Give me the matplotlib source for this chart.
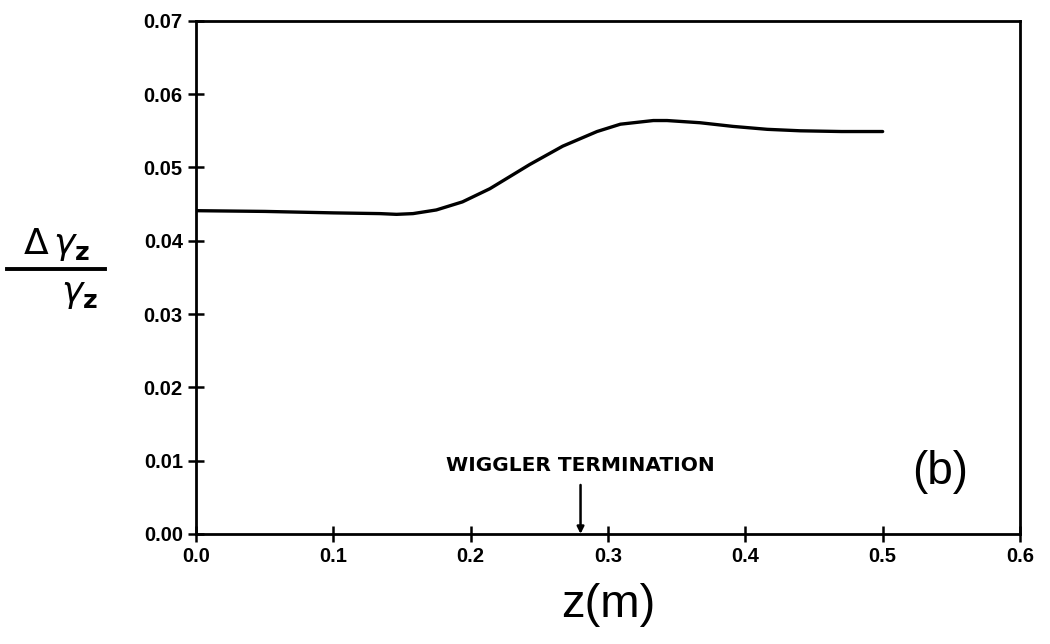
import matplotlib
matplotlib.use("Agg")
import matplotlib.pyplot as plt

# Relative longitudinal energy spread along the interaction region
z_m = [0.0, 0.05, 0.10, 0.134, 0.146, 0.158, 0.175, 0.194, 0.214, 0.243,
       0.267, 0.292, 0.309, 0.333, 0.343, 0.367, 0.391, 0.416, 0.44, 0.47, 0.50]
spread = [0.0441, 0.0440, 0.0438, 0.0437, 0.0436, 0.0437, 0.0442, 0.0453,
          0.0471, 0.0504, 0.0529, 0.0549, 0.0559, 0.0564, 0.0564, 0.0561,
          0.0556, 0.0552, 0.0550, 0.0549, 0.0549]

x_ticks = [0.0, 0.1, 0.2, 0.3, 0.4, 0.5, 0.6]
x_tick_labels = ["0.0", "0.1", "0.2", "0.3", "0.4", "0.5", "0.6"]
y_ticks = [0.00, 0.01, 0.02, 0.03, 0.04, 0.05, 0.06, 0.07]
y_tick_labels = ["0.00", "0.01", "0.02", "0.03", "0.04", "0.05", "0.06", "0.07"]

termination_z = 0.28

plt.rcParams['font.family'] = ['Liberation Sans', 'DejaVu Sans']
plt.rcParams['mathtext.fontset'] = 'dejavusans'

fig = plt.figure(figsize=(10.5, 6.44), dpi=100)
ax = fig.add_axes([0.1867, 0.171, 0.7847, 0.7966])

ax.plot(z_m, spread, color='black', lw=2.4, solid_capstyle='round')

ax.set_xlim(0.0, 0.6)
ax.set_ylim(0.0, 0.07)
ax.set_xticks(x_ticks)
ax.set_xticklabels(x_tick_labels, fontsize=14.5, fontweight='bold')
ax.set_yticks(y_ticks)
ax.set_yticklabels(y_tick_labels, fontsize=14.5, fontweight='bold')
ax.tick_params(direction='inout', length=11, width=1.8, pad=4,
               top=False, right=False)
for s in ax.spines.values():
    s.set_linewidth(2.0)

ax.set_xlabel("z(m)", fontsize=34, labelpad=12)

# Stacked fraction label on the left
fig.text(0.054, 0.592, r"$\Delta\,\gamma_\mathbf{z}$", fontsize=26,
         ha='center', va='bottom')
fig.add_artist(plt.Line2D([0.007, 0.100], [0.582, 0.582], color='black', lw=2.8,
                          transform=fig.transFigure))
fig.text(0.076, 0.571, r"$\gamma_\mathbf{z}$", fontsize=26, ha='center', va='top')

ax.annotate("WIGGLER TERMINATION", xy=(termination_z, 0.0),
            xytext=(termination_z, 0.0080), ha='center', va='bottom',
            fontsize=14.5, fontweight='bold', family='DejaVu Sans',
            arrowprops=dict(arrowstyle='-|>', color='black', lw=1.8,
                            mutation_scale=10, shrinkA=5, shrinkB=0))

ax.text(0.542, 0.0085, "(b)", fontsize=33, ha='center', va='center')

fig.savefig("out.png", dpi=100)
